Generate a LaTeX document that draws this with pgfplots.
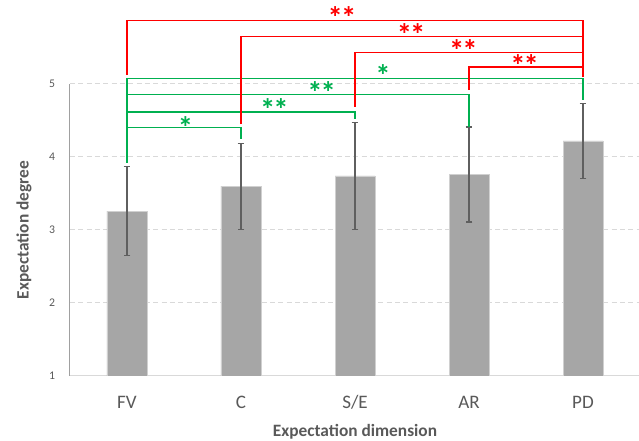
\documentclass[border=0pt]{standalone}
\usepackage{pgfplots}
\pgfplotsset{compat=1.18}
\usepackage{fontspec}
\setmainfont{Carlito}

\definecolor{barfill}{HTML}{A6A6A6}
\definecolor{baredge}{HTML}{D0D0D0}
\definecolor{errgray}{HTML}{5F5F5F}
\definecolor{gridgray}{HTML}{D9D9D9}
\definecolor{axisgray}{HTML}{A0A0A0}
\definecolor{txtgray}{HTML}{595959}
\definecolor{sigred}{HTML}{FF0000}
\definecolor{siggreen}{HTML}{00B050}

\pgfplotsset{
  common/.style={
    width=427.5pt, height=219pt, scale only axis,
    xmin=-0.5, xmax=4.5, ymin=1, ymax=5,
  },
}
\tikzset{
  stars/.style={font=\fontsize{23}{23}\selectfont\bfseries, inner sep=0pt,
    anchor=center, yshift=-3.9pt},
}
\newcommand{\two}{*\hspace{-1.5pt}*}

\begin{document}
\begin{tikzpicture}
 % bars with error bars
 \begin{axis}[
   common,
   axis lines=left,
   x axis line style={draw=gridgray, line width=0.75pt, -},
   y axis line style={draw=axisgray, line width=0.75pt, -},
   major tick length=0pt,
   xtick={0,1,2,3,4},
   xticklabels={FV, C, S/E, AR, PD},
   ytick={1,2,3,4,5},
   /pgf/number format/assume math mode=true,
   ymajorgrids,
   grid style={draw=gridgray, line width=0.75pt, dash pattern=on 3.75pt off 2.5pt},
   xticklabel style={font=\fontsize{14.3}{14.3}\selectfont, text=txtgray,
     anchor=base, inner sep=0pt, yshift=-24.75pt},
   yticklabel style={font=\fontsize{8.8}{8.8}\selectfont, text=txtgray,
     anchor=east, inner sep=0pt, xshift=-11pt},
   xlabel={Expectation dimension},
   ylabel={Expectation degree},
   label style={font=\fontsize{13}{13}\selectfont\bfseries, text=txtgray},
   xlabel style={at={(axis description cs:0.5,-0.2079)}, anchor=base, inner sep=0pt},
   ylabel style={at={(axis description cs:-0.0807,0.5)}, anchor=center, inner sep=0pt},
  ]
  \addplot[ybar, bar width=30pt, fill=barfill, draw=baredge, line width=0.5pt,
    error bars/.cd, y dir=both, y explicit, error mark=|,
    error bar style={draw=errgray, line width=0.8pt},
    error mark options={draw=errgray, line width=0.9pt, mark size=2.6pt}]
   table[x=x, y=y, y error=e] {
    x  y     e
    0  3.26  0.61
    1  3.60  0.59
    2  3.74  0.73
    3  3.76  0.65
    4  4.22  0.51
   };
 \end{axis}
 % significance brackets
 \begin{axis}[common, hide axis, clip=false]
  \addplot[siggreen, line width=1pt, mark=none] coordinates {(0,3.918) (0,5.073) (4,5.073) (4,4.78)};
  \addplot[siggreen, line width=1pt, mark=none] coordinates {(0,4.859) (3,4.859) (3,4.415)};
  \addplot[siggreen, line width=1pt, mark=none] coordinates {(0,4.616) (2,4.616) (2,4.52)};
  \addplot[siggreen, line width=1pt, mark=none] coordinates {(0,4.401) (1,4.401) (1,4.247)};
  \addplot[sigred, line width=1pt, mark=none] coordinates {(0,5.123) (0,5.867) (4,5.867) (4,5.09)};
  \addplot[sigred, line width=1pt, mark=none] coordinates {(1,4.452) (1,5.648) (4,5.648)};
  \addplot[sigred, line width=1pt, mark=none] coordinates {(2,4.689) (2,5.434) (4,5.434)};
  \addplot[sigred, line width=1pt, mark=none] coordinates {(3,4.918) (3,5.233) (4,5.233)};
  \node[stars, text=sigred] at (axis cs:1.886,5.986) {\two};
  \node[stars, text=sigred] at (axis cs:2.493,5.753) {\two};
  \node[stars, text=sigred] at (axis cs:2.95,5.525) {\two};
  \node[stars, text=sigred] at (axis cs:3.488,5.32) {\two};
  \node[stars, text=siggreen] at (axis cs:2.246,5.182) {*};
  \node[stars, text=siggreen] at (axis cs:1.707,4.95) {\two};
  \node[stars, text=siggreen] at (axis cs:1.293,4.726) {\two};
  \node[stars, text=siggreen] at (axis cs:0.513,4.479) {*};
 \end{axis}
 \pgfresetboundingbox
 \useasboundingbox (-52.5pt,-48.75pt) rectangle (426.75pt,282pt);
\end{tikzpicture}
\end{document}
